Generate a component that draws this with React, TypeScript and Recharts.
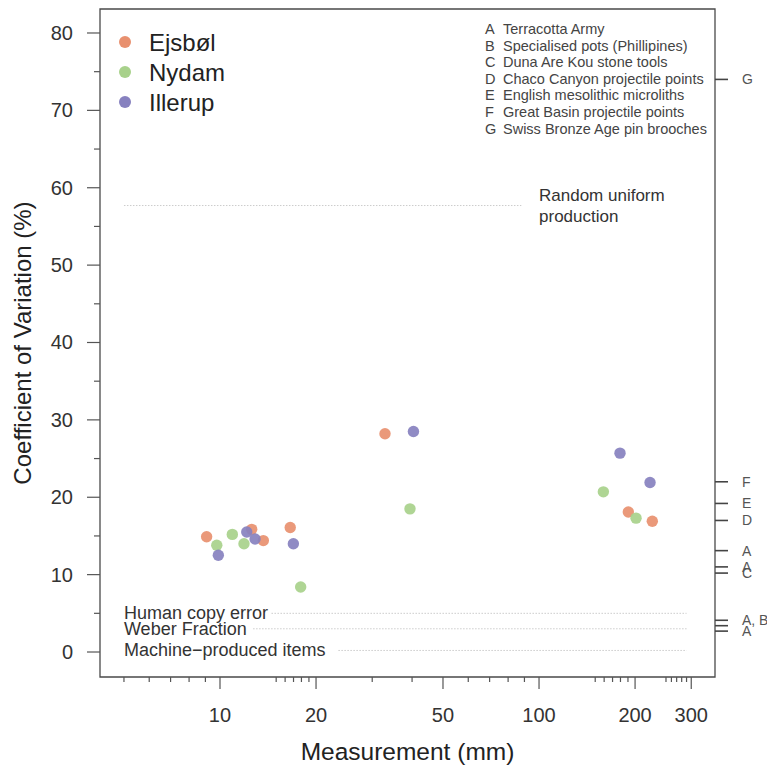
import React from 'react';
import {
  ScatterChart,
  Scatter,
  XAxis,
  YAxis,
  ReferenceLine,
  ReferenceDot,
  ReferenceArea,
  Legend,
} from 'recharts';

const FONT = '"Liberation Sans", Arial, Helvetica, sans-serif';

// ---- data ----
const ejsbolX = [9.08, 12.57, 13.67, 16.6, 32.9, 190.5, 226.5];
const ejsbolY = [14.9, 15.85, 14.4, 16.1, 28.2, 18.1, 16.9];
const nydamX = [9.77, 10.93, 11.89, 17.9, 39.4, 159.1, 201.4];
const nydamY = [13.8, 15.2, 14.0, 8.4, 18.5, 20.7, 17.3];
const illerupX = [9.88, 12.13, 12.88, 16.98, 40.4, 179.4, 222.8];
const illerupY = [12.5, 15.5, 14.6, 14.0, 28.5, 25.7, 21.9];

const seriesNames = ['Ejsbøl', 'Nydam', 'Illerup'];
const seriesColors = ['#E8906F', '#A8D18B', '#8781BF'];

const xMajorTicks = [10, 20, 50, 100, 200, 300];
const xMinorTicks = [5, 6, 7, 8, 9, 15, 16, 17, 18, 19, 30, 40, 60, 70, 80, 90, 150, 160, 170, 180, 190, 250, 260, 270, 280, 290];
const yMajorTicks = [0, 10, 20, 30, 40, 50, 60, 70, 80];
const yMinorTicks = [5, 15, 25, 35, 45, 55, 65, 75];

const refValues = [74, 22, 19.2, 17, 13.1, 11, 10.2, 4.1, 3.4, 2.7];
const refLetters = ['G', 'F', 'E', 'D', 'A', 'A', 'C', 'A, B', '', 'A'];

const noteLetters = ['A', 'B', 'C', 'D', 'E', 'F', 'G'];
const noteTexts = [
  'Terracotta Army',
  'Specialised pots (Phillipines)',
  'Duna Are Kou stone tools',
  'Chaco Canyon projectile points',
  'English mesolithic microliths',
  'Great Basin projectile points',
  'Swiss Bronze Age pin brooches',
];

const guideNames = ['Random uniform|production', 'Human copy error', 'Weber Fraction', 'Machine\u2212produced items'];
const guideValues = [57.7, 5, 3, 0.2];
const guideStarts = [5, 14.5, 12.7, 23.5];
const guideEnds = [88, 290, 290, 290];
const guideTextX = [100, 5, 5, 5];

const xDomain = [4.206, 356.1];
const yDomain = [-3.23, 83.1];

const toPoints = (xs: number[], ys: number[]) => xs.map((x, i) => ({ x, y: ys[i] }));
const seriesData = [toPoints(ejsbolX, ejsbolY), toPoints(nydamX, nydamY), toPoints(illerupX, illerupY)];

const XTick = (p: any) => {
  const v = p.payload.value;
  const major = xMajorTicks.includes(v);
  return (
    <g>
      <line x1={p.x} x2={p.x} y1={p.y} y2={p.y + (major ? 12 : 5)} stroke="#555" strokeWidth={1.2} />
      {major && (
        <text x={p.x} y={p.y + 38} textAnchor="middle" dominantBaseline="central" fontSize={20} fill="#333" fontFamily={FONT}>
          {v}
        </text>
      )}
    </g>
  );
};

const YTick = (p: any) => {
  const v = p.payload.value;
  const major = yMajorTicks.includes(v);
  return (
    <g>
      <line x1={p.x - (major ? 13 : 6)} x2={p.x} y1={p.y} y2={p.y} stroke="#555" strokeWidth={1.2} />
      {major && (
        <text x={p.x - 27} y={p.y} textAnchor="end" dominantBaseline="central" fontSize={20} fill="#333" fontFamily={FONT}>
          {v}
        </text>
      )}
    </g>
  );
};

const RTick = (p: any) => {
  const v = p.payload.value;
  const idx = refValues.indexOf(v);
  const label = idx >= 0 ? refLetters[idx] : '';
  return (
    <g>
      <line x1={p.x} x2={p.x + 13} y1={p.y} y2={p.y} stroke="#444" strokeWidth={1.6} />
      {label && (
        <text x={p.x + 27} y={p.y} textAnchor="start" dominantBaseline="central" fontSize={14} fill="#555" fontFamily={FONT}>
          {label}
        </text>
      )}
    </g>
  );
};

const renderLegend = () => (
  <svg width={160} height={100} style={{ overflow: 'visible' }}>
    {seriesNames.map((name, i) => (
      <g key={name}>
        <circle cx={15} cy={16 + i * 30} r={6} fill={seriesColors[i]} />
        <text x={39} y={16 + i * 30} dominantBaseline="central" fontSize={24} fill="#222" fontFamily={FONT}>
          {name}
        </text>
      </g>
    ))}
  </svg>
);

const guideLabel = (i: number) => (props: any) => {
  const vb = props.viewBox || {};
  const x = vb.x ?? 0;
  const y = vb.y ?? 0;
  const parts = guideNames[i].split('|');
  if (parts.length > 1) {
    return (
      <g>
        {parts.map((t, k) => (
          <text key={k} x={x} y={y + (k - 0.5) * 21} dominantBaseline="central" fontSize={17} fill="#333" fontFamily={FONT}>
            {t}
          </text>
        ))}
      </g>
    );
  }
  return (
    <text x={x} y={y} dominantBaseline="central" fontSize={18} fill="#333" fontFamily={FONT}>
      {parts[0]}
    </text>
  );
};

const yTitle = (props: any) => {
  const vb = props.viewBox || { x: 0, y: 9, width: 100, height: 668 };
  const cx = vb.x + 22;
  const cy = vb.y + vb.height / 2;
  return (
    <text x={cx} y={cy} transform={`rotate(-90 ${cx} ${cy})`} textAnchor="middle" dominantBaseline="central" fontSize={24} fill="#222" fontFamily={FONT}>
      Coefficient of Variation (%)
    </text>
  );
};

const xTitle = (props: any) => {
  const vb = props.viewBox || { x: 100, y: 677, width: 615, height: 90 };
  const cx = vb.x + vb.width / 2;
  const cy = vb.y + 74;
  return (
    <text x={cx} y={cy} textAnchor="middle" dominantBaseline="central" fontSize={24.5} fill="#222" fontFamily={FONT}>
      Measurement (mm)
    </text>
  );
};

export default function App() {
  return (
    <div style={{ position: 'absolute', left: 0, top: 0, width: 767, height: 767, background: '#fff' }}>
      <ScatterChart width={767} height={767} margin={{ top: 9, right: 0, bottom: 0, left: 0 }} style={{ fontFamily: FONT }}>
        <XAxis
          type="number"
          dataKey="x"
          scale="log"
          domain={xDomain}
          allowDataOverflow
          ticks={[...xMajorTicks, ...xMinorTicks].sort((a, b) => a - b)}
          interval={0}
          height={90}
          axisLine={false}
          tickLine={false}
          tickSize={0}
          tickMargin={0}
          tick={XTick}
          label={{ content: xTitle }}
        />
        <YAxis
          yAxisId="left"
          type="number"
          dataKey="y"
          domain={yDomain}
          allowDataOverflow
          ticks={[...yMajorTicks, ...yMinorTicks].sort((a, b) => a - b)}
          interval={0}
          width={100}
          axisLine={false}
          tickLine={false}
          tickSize={0}
          tickMargin={0}
          tick={YTick}
          label={{ content: yTitle }}
        />
        <YAxis
          yAxisId="right"
          orientation="right"
          type="number"
          domain={yDomain}
          allowDataOverflow
          ticks={[...refValues].sort((a, b) => a - b)}
          interval={0}
          width={52}
          axisLine={false}
          tickLine={false}
          tickSize={0}
          tickMargin={0}
          tick={RTick}
        />
        <ReferenceArea
          yAxisId="left"
          x1={xDomain[0]}
          x2={xDomain[1]}
          y1={yDomain[0]}
          y2={yDomain[1]}
          fill="none"
          fillOpacity={0}
          stroke="#4a4a4a"
          strokeWidth={1.3}
          ifOverflow="visible"
        />
        {guideValues.map((v, i) => (
          <ReferenceLine
            key={`gl${i}`}
            yAxisId="left"
            segment={[
              { x: guideStarts[i], y: v },
              { x: guideEnds[i], y: v },
            ]}
            stroke="#cccccc"
            strokeDasharray="1.5 1.5"
            strokeWidth={1}
            ifOverflow="visible"
          />
        ))}
        {guideValues.map((v, i) => (
          <ReferenceDot
            key={`gd${i}`}
            yAxisId="left"
            x={guideTextX[i]}
            y={v}
            r={0}
            fill="none"
            stroke="none"
            ifOverflow="visible"
            label={{ content: guideLabel(i) }}
          />
        ))}
        {seriesData.map((d, i) => (
          <Scatter
            key={seriesNames[i]}
            name={seriesNames[i]}
            yAxisId="left"
            data={d}
            fill={seriesColors[i]}
            isAnimationActive={false}
            shape={(p: any) => <circle cx={p.cx} cy={p.cy} r={5.7} fill={seriesColors[i]} fillOpacity={0.92} />}
          />
        ))}
        <Legend
          layout="vertical"
          align="center"
          verticalAlign="middle"
          wrapperStyle={{ left: 110, top: 26, width: 160, height: 100 }}
          content={renderLegend}
        />
      </ScatterChart>
      <svg width={767} height={767} style={{ position: 'absolute', left: 0, top: 0, pointerEvents: 'none' }}>
        {noteTexts.map((t, i) => (
          <g key={i}>
            <text x={485} y={29 + i * 16.6} dominantBaseline="central" fontSize={14.5} fill="#444" fontFamily={FONT}>
              {noteLetters[i]}
            </text>
            <text x={503} y={29 + i * 16.6} dominantBaseline="central" fontSize={14.5} fill="#444" fontFamily={FONT}>
              {t}
            </text>
          </g>
        ))}
      </svg>
    </div>
  );
}
